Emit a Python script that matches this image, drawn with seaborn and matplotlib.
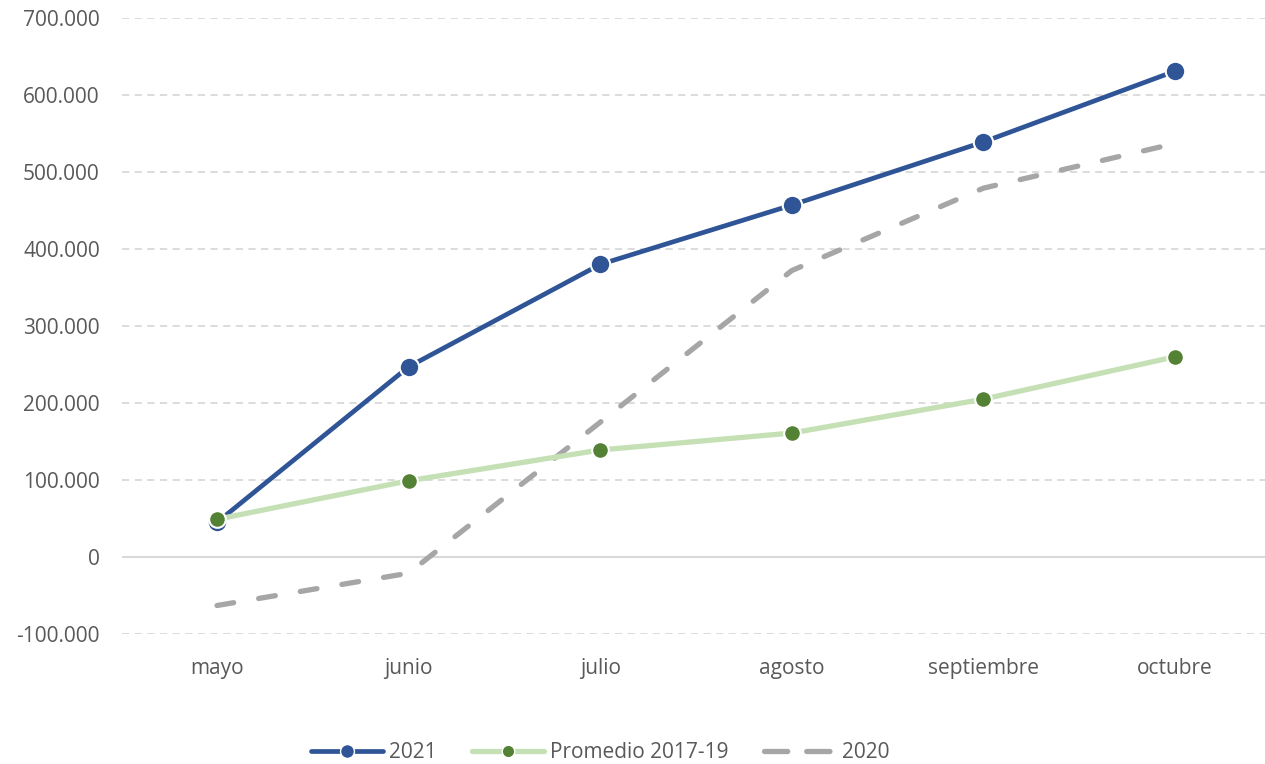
import matplotlib
matplotlib.use("Agg")
import matplotlib.pyplot as plt
from matplotlib.lines import Line2D
from matplotlib.ticker import FuncFormatter, MultipleLocator
import seaborn as sns
import pandas as pd

months = ["mayo", "junio", "julio", "agosto", "septiembre", "octubre"]
s2021 = [45000, 247000, 380000, 457000, 539000, 631000]
promedio = [49000, 99000, 139000, 161000, 205000, 260000]
s2020 = [-63000, -21000, 175000, 372000, 479000, 537000]

sns.set_theme(style="white")
plt.rcParams["font.family"] = ["Open Sans", "DejaVu Sans"]

fig = plt.figure(figsize=(12.65, 7.64), dpi=100)
ax = fig.add_axes([122/1265, (764-634)/764, (1265-122)/1265, 616/764])

x = list(range(len(months)))
df = pd.DataFrame({"x": x, "s2021": s2021, "prom": promedio, "s2020": s2020})

gray = "#A6A6A6"
blue = "#2F5597"
lgreen = "#C5E0B4"
dgreen = "#548235"

ax.set_ylim(-100000, 700000)
ax.set_xlim(-0.496, 5.47)
ax.yaxis.set_major_locator(MultipleLocator(100000))
ax.grid(axis="y", color="#D9D9D9", linestyle=(0, (4, 3)), linewidth=1.3)
ax.grid(axis="x", visible=False)
ax.axhline(0, color="#D9D9D9", linewidth=1.5, zorder=1)

sns.lineplot(data=df, x="x", y="s2020", ax=ax, color=gray, linewidth=3.8,
             dashes=False, zorder=2)
ax.lines[-1].set_linestyle((0, (3.2, 4.8)))
ax.lines[-1].set_dash_capstyle("round")

sns.lineplot(data=df, x="x", y="s2021", ax=ax, color=blue, linewidth=3.4,
             marker="o", markersize=14, markerfacecolor=blue,
             markeredgecolor="white", markeredgewidth=1.5, zorder=3)
sns.lineplot(data=df, x="x", y="prom", ax=ax, color=lgreen, linewidth=3.8,
             marker="o", markersize=12, markerfacecolor=dgreen,
             markeredgecolor="white", markeredgewidth=1.5, zorder=4)

for s in ax.spines.values():
    s.set_visible(False)

ax.set_xticks(x)
ax.set_xticklabels(months)
ax.yaxis.set_major_formatter(FuncFormatter(lambda v, p: f"{int(round(v)):,}".replace(",", ".")))
ax.tick_params(axis="both", length=0, labelsize=15, labelcolor="#595959")
ax.tick_params(axis="x", pad=17)
ax.tick_params(axis="y", pad=16)
ax.set_xlabel("")
ax.set_ylabel("")

handles = [
    Line2D([0], [0], color=blue, linewidth=3.4, marker="o", markersize=10,
           markerfacecolor=blue, markeredgecolor="white", markeredgewidth=1),
    Line2D([0], [0], color=lgreen, linewidth=3.8, marker="o", markersize=9,
           markerfacecolor=dgreen, markeredgecolor="white", markeredgewidth=1),
    Line2D([0], [0], color=gray, linewidth=3.8, linestyle=(0, (4.4, 3.6)),
           dash_capstyle="round"),
]
leg = fig.legend(handles, ["2021", "Promedio 2017-19", "2020"], loc="center",
                 bbox_to_anchor=(600/1265, (764-753)/764), ncol=3, frameon=False,
                 fontsize=15, handlelength=3.45, handletextpad=0.29,
                 columnspacing=1.7)
for t in leg.get_texts():
    t.set_color("#595959")

fig.savefig("out.png", dpi=100)
